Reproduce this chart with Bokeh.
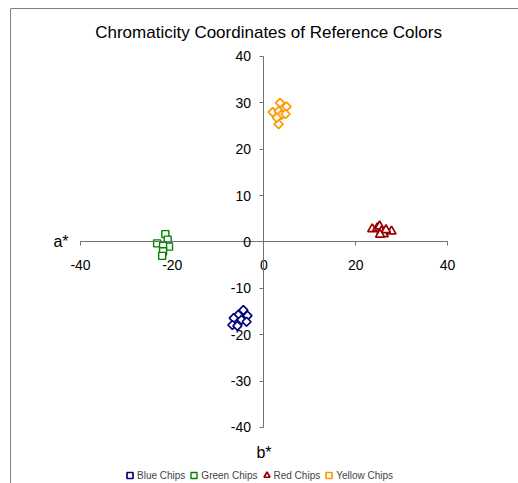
from bokeh.plotting import figure
from bokeh.models import (LinearAxis, FixedTicker, Label, Legend,
                          LegendItem, Range1d, Span)
from bokeh.embed import file_html
from bokeh.resources import INLINE
import math

# ---- data ----
blue_a = [-4.5, -5.6, -3.6, -6.6, -4.9, -3.8, -6.9, -5.8]
blue_b = [-14.7, -15.7, -15.9, -16.4, -16.8, -17.2, -17.9, -18.1]
green_a = [-21.5, -21.0, -23.3, -20.7, -22.0, -22.0, -22.2]
green_b = [1.7, 0.5, -0.3, -1.0, -0.8, -2.0, -3.0]
red_a = [23.6, 24.7, 25.2, 25.6, 26.1, 27.8, 26.6, 25.3]
red_b = [2.8, 3.0, 3.4, 2.3, 1.7, 2.3, 2.6, 1.6]
yellow_a = [3.5, 4.9, 1.9, 3.2, 3.8, 4.7, 3.2, 2.8]
yellow_b = [30.0, 29.2, 28.0, 28.2, 27.4, 27.6, 25.4, 26.8]
x_ticks = [-40, -20, 0, 20, 40]
y_ticks = [-40, -30, -20, -10, 0, 10, 20, 30, 40]
x_tick_labels = ["-40", "-20", "0", "20", "40"]
y_tick_labels = ["-40", "-30", "-20", "-10", "0", "10", "20", "30", "40"]
title_text = "Chromaticity Coordinates of Reference Colors"
series_names = ["Blue Chips", "Green Chips", "Red Chips", "Yellow Chips"]

FONT = "Liberation Sans"

p = figure(width=518, height=483, output_backend="svg", toolbar_location=None,
           x_axis_location=None, y_axis_location=None,
           x_range=Range1d(-55.26, 55.48), y_range=Range1d(-52.08, 50.35),
           min_border_left=10, min_border_top=8, min_border_right=0, min_border_bottom=0)
p.grid.visible = False
p.outline_line_color = None
p.background_fill_color = "white"
p.border_fill_color = "white"

# outer border (top and left edges visible)
p.add_layout(Span(location=50.35, dimension="width", line_color="black", line_width=1))
p.add_layout(Span(location=-55.26, dimension="height", line_color="black", line_width=1))

def style_axis(ax, ticks, labels, standoff):
    ax.fixed_location = 0
    ax.bounds = (ticks[0], ticks[-1])
    ax.ticker = FixedTicker(ticks=ticks)
    ax.major_label_overrides = {t: s for t, s in zip(ticks, labels)}
    ax.axis_line_color = "#707070"
    ax.major_tick_line_color = "#707070"
    ax.major_tick_in = 0
    ax.major_tick_out = 4
    ax.minor_tick_line_color = None
    ax.major_label_text_font = FONT
    ax.major_label_text_font_size = "14px"
    ax.major_label_text_color = "black"
    ax.major_label_standoff = standoff

xa = LinearAxis()
style_axis(xa, x_ticks, x_tick_labels, 14)
p.add_layout(xa, "below")
ya = LinearAxis()
style_axis(ya, y_ticks, y_tick_labels, 9)
p.add_layout(ya, "left")

r_blue = p.scatter(blue_a, blue_b, marker="square", angle=math.pi / 4, size=6.3,
                   line_color="#000080", line_width=1.7, fill_color="white")
r_green = p.scatter(green_a, green_b, marker="square", size=7,
                    line_color="#008000", line_width=1.4, fill_color="white")
r_red = p.scatter(red_a, red_b, marker="triangle", size=9,
                  line_color="#990000", line_width=1.7, fill_color="white")
r_yellow = p.scatter(yellow_a, yellow_b, marker="square", angle=math.pi / 4, size=6.3,
                     line_color="#FF9900", line_width=1.7, fill_color="white")

p.add_layout(Label(x=1.0, y=45.2, text=title_text, text_font=FONT, text_font_size="17px",
                   text_align="center", text_baseline="middle", text_color="black"))
p.add_layout(Label(x=-42.6, y=0, text="a*", text_font=FONT, text_font_size="16px",
                   text_align="right", text_baseline="middle", text_color="black"))
p.add_layout(Label(x=0, y=-45.4, text="b*", text_font=FONT, text_font_size="16px",
                   text_align="center", text_baseline="middle", text_color="black"))

legend = Legend(items=[LegendItem(label=n, renderers=[r]) for n, r in
                       zip(series_names, [r_blue, r_green, r_red, r_yellow])],
                orientation="horizontal", location=(112, 0),
                label_text_font=FONT, label_text_font_size="10px",
                glyph_width=15, glyph_height=16, label_standoff=0, spacing=1,
                padding=0, margin=0, border_line_color=None, background_fill_alpha=0,
                label_height=10)
p.add_layout(legend, "center")

open("out.html", "w").write(file_html(p, INLINE))
